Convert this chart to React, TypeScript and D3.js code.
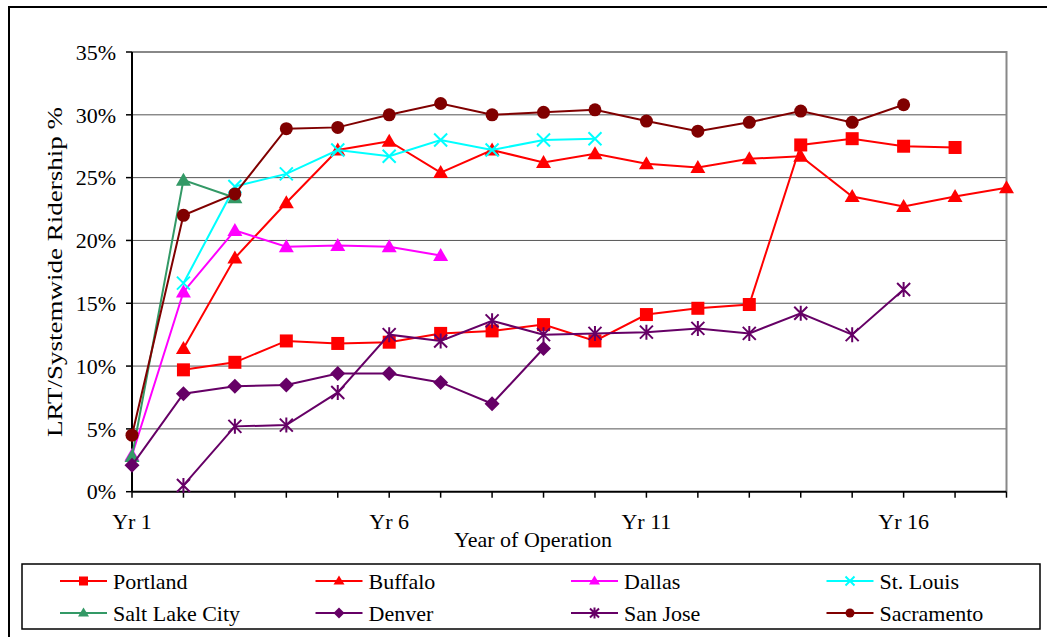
import React from "react";
import * as d3 from "d3";

// years of operation and the ridership share (%) for each system
const years = [1, 2, 3, 4, 5, 6, 7, 8, 9, 10, 11, 12, 13, 14, 15, 16, 17, 18];
const yearLabels = ["Yr 1", "", "", "", "", "Yr 6", "", "", "", "", "Yr 11", "", "", "", "", "Yr 16", "", ""];
const yTicks = [0, 5, 10, 15, 20, 25, 30, 35];

const portland = [null, 9.7, 10.3, 12.0, 11.8, 11.9, 12.6, 12.8, 13.3, 12.0, 14.1, 14.6, 14.9, 27.6, 28.1, 27.5, 27.4, null];
const buffalo = [null, 11.4, 18.6, 23.0, 27.2, 27.9, 25.4, 27.2, 26.2, 26.9, 26.1, 25.8, 26.5, 26.7, 23.5, 22.7, 23.5, 24.2];
const dallas = [2.9, 15.9, 20.8, 19.5, 19.6, 19.5, 18.8];
const stLouis = [null, 16.6, 24.3, 25.3, 27.2, 26.7, 28.0, 27.2, 28.0, 28.1];
const saltLake = [2.8, 24.8, 23.4];
const denver = [2.1, 7.8, 8.4, 8.5, 9.4, 9.4, 8.7, 7.0, 11.4];
const sanJose = [null, 0.5, 5.2, 5.3, 7.9, 12.5, 12.0, 13.6, 12.5, 12.6, 12.7, 13.0, 12.6, 14.2, 12.5, 16.1];
const sacramento = [4.5, 22.0, 23.7, 28.9, 29.0, 30.0, 30.9, 30.0, 30.2, 30.4, 29.5, 28.7, 29.4, 30.3, 29.4, 30.8];

type Shape = "square" | "triangle" | "circle" | "diamond" | "x" | "star";

const series: { name: string; values: (number | null)[]; color: string; shape: Shape }[] = [
  { name: "Portland", values: portland, color: "#ff0000", shape: "square" },
  { name: "Buffalo", values: buffalo, color: "#ff0000", shape: "triangle" },
  { name: "Dallas", values: dallas, color: "#ff00ff", shape: "triangle" },
  { name: "St. Louis", values: stLouis, color: "#00ffff", shape: "x" },
  { name: "Salt Lake City", values: saltLake, color: "#339966", shape: "triangle" },
  { name: "Denver", values: denver, color: "#660066", shape: "diamond" },
  { name: "San Jose", values: sanJose, color: "#660066", shape: "star" },
  { name: "Sacramento", values: sacramento, color: "#800000", shape: "circle" },
];

const font = "'Liberation Serif', 'Times New Roman', serif";

function Marker({ shape, color, x, y, s }: { shape: Shape; color: string; x: number; y: number; s: number }) {
  const h = s / 2;
  if (shape === "square")
    return <rect x={x - h} y={y - h} width={s} height={s} fill={color} />;
  if (shape === "circle") return <circle cx={x} cy={y} r={h} fill={color} />;
  if (shape === "diamond")
    return <path d={`M${x},${y - h - 1}L${x + h + 1},${y}L${x},${y + h + 1}L${x - h - 1},${y}Z`} fill={color} />;
  if (shape === "triangle")
    return <path d={`M${x},${y - h - 1}L${x + h + 1},${y + h - 1}L${x - h - 1},${y + h - 1}Z`} fill={color} />;
  const xs = `M${x - h},${y - h}L${x + h},${y + h}M${x - h},${y + h}L${x + h},${y - h}`;
  if (shape === "x") return <path d={xs} stroke={color} strokeWidth={2} fill="none" />;
  return <path d={`${xs}M${x},${y - h - 1}L${x},${y + h + 1}`} stroke={color} strokeWidth={2} fill="none" />;
}

export default function App() {
  const x = d3.scalePoint<number>().domain(years).range([132, 1006.5]);
  const y = d3.scaleLinear().domain([0, 35]).range([491.7, 52]);

  const line = d3
    .line<number | null>()
    .defined((d) => d != null)
    .x((_, i) => x(years[i])!)
    .y((d) => y(d as number));

  const left = 132;
  const right = 1006.5;
  const bottom = y(0);
  const top = y(35);

  return (
    <svg width={1047} height={637} style={{ position: "absolute", left: 0, top: 0, fontFamily: font }}>
      <rect width={1047} height={637} fill="#fff" />
      {/* outer chart frame */}
      <path d="M9,640V7H1050" fill="none" stroke="#000" strokeWidth={2} />

      {/* gridlines */}
      {yTicks.slice(1, -1).map((t) => (
        <line key={t} x1={left} x2={right} y1={y(t)} y2={y(t)} stroke="#555" strokeWidth={1} />
      ))}
      <path d={`M${left},${top}H${right}V${bottom}`} fill="none" stroke="#888" strokeWidth={2} />

      {/* y axis */}
      <line x1={left} x2={left} y1={top} y2={bottom} stroke="#000" strokeWidth={2} />
      {yTicks.map((t) => (
        <g key={t}>
          <line x1={left - 6} x2={left} y1={y(t)} y2={y(t)} stroke="#000" strokeWidth={1.5} />
          <text x={116} y={y(t)} dy="0.35em" textAnchor="end" fontSize={22}>
            {t}%
          </text>
        </g>
      ))}

      {/* x axis */}
      <line x1={left} x2={right} y1={bottom} y2={bottom} stroke="#000" strokeWidth={2} />
      {years.map((yr, i) => (
        <g key={yr}>
          <line x1={x(yr)} x2={x(yr)} y1={bottom} y2={bottom + 6} stroke="#000" strokeWidth={1.5} />
          {yearLabels[i] && (
            <text x={x(yr)} y={529} textAnchor="middle" fontSize={22}>
              {yearLabels[i]}
            </text>
          )}
        </g>
      ))}

      <text x={533} y={547} textAnchor="middle" fontSize={22}>
        Year of Operation
      </text>
      <text
        transform="translate(62,272) rotate(-90)"
        textAnchor="middle"
        fontSize={22}
        textLength={330}
        lengthAdjust="spacingAndGlyphs"
      >
        LRT/Systemwide Ridership %
      </text>

      {/* series */}
      {series.map((s) => (
        <g key={s.name}>
          <path d={line(s.values) ?? ""} fill="none" stroke={s.color} strokeWidth={2} />
          {s.values.map((v, i) =>
            v == null ? null : <Marker key={i} shape={s.shape} color={s.color} x={x(years[i])!} y={y(v)} s={13} />
          )}
        </g>
      ))}

      {/* legend */}
      <rect x={22} y={564} width={1018} height={65} fill="#fff" stroke="#000" strokeWidth={1.5} />
      {series.map((s, i) => {
        const col = i % 4;
        const row = Math.floor(i / 4);
        const lx = 60 + col * 255.5;
        const ly = 581 + row * 32;
        return (
          <g key={s.name}>
            <line x1={lx} x2={lx + 47} y1={ly} y2={ly} stroke={s.color} strokeWidth={2} />
            <Marker shape={s.shape} color={s.color} x={lx + 23.5} y={ly} s={9} />
            <text x={lx + 53} y={ly} dy="0.35em" fontSize={22}>
              {s.name}
            </text>
          </g>
        );
      })}
    </svg>
  );
}
